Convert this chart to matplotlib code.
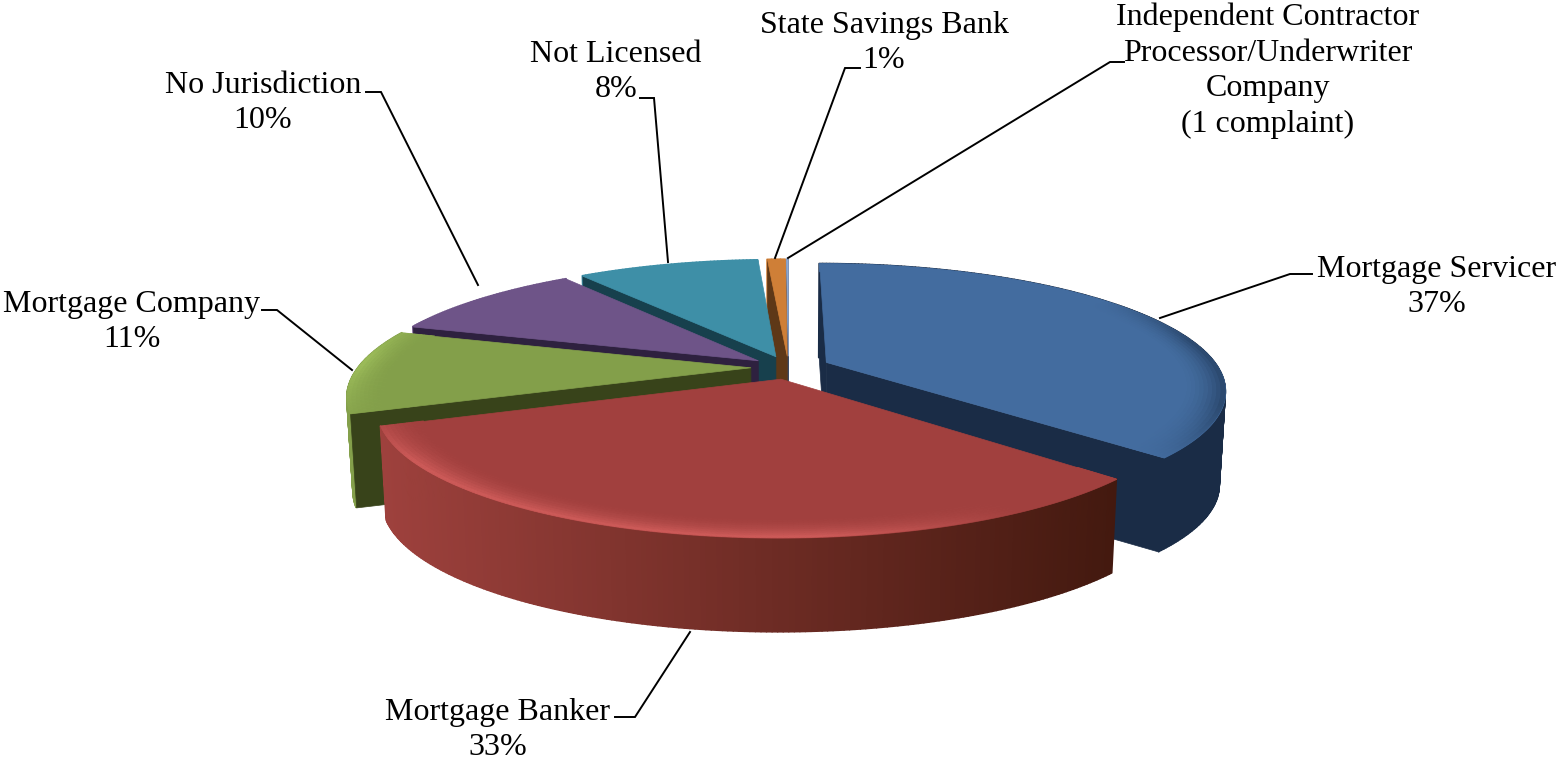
import numpy as np
import matplotlib
matplotlib.use("Agg")
import matplotlib.pyplot as plt
from matplotlib.collections import PolyCollection
from matplotlib.colors import to_rgb

categories = ["Mortgage Servicer", "Mortgage Banker", "Mortgage Company", "No Jurisdiction",
              "Not Licensed", "State Savings Bank", "Independent Contractor"]
values = [37, 32.3, 10.6, 10, 9.1, 0.9, 0.1]
label_texts = ["Mortgage Servicer\n37%", "Mortgage Banker\n33%", "Mortgage Company\n11%",
               "No Jurisdiction\n10%", "Not Licensed\n8%", "State Savings Bank\n1%",
               "Independent Contractor\nProcessor/Underwriter\nCompany\n(1 complaint)"]
label_pos = [(1437, 287), (498, 730), (132, 322), (263, 103), (616, 72), (884, 43), (1268, 71)]
leaders = [[(1160, 318), (1290, 274), (1312, 274)],
           [(690, 632), (635, 717), (615, 717)],
           [(352, 370), (277, 310), (262, 310)],
           [(478, 285), (381, 92), (366, 92)],
           [(668, 262), (654, 98), (640, 98)],
           [(775, 258), (845, 68), (860, 68)],
           [(788, 258), (1110, 62), (1124, 62)]]

top_colors = ["#436c9f", "#a1403e", "#839f4a", "#6e5488", "#3e8fa7", "#cf7f37", "#8fa8d0"]
cut_colors = ["#1a2c46", "#43190f", "#38431a", "#2e213f", "#17404d", "#5e3817", "#3a4a66"]
side_left = ["#1a2c46", "#9e413d", "#84a04b", "#6e5488", "#3e8fa7", "#cf7f37", "#8fa8d0"]
side_right = ["#1a2c46", "#43190f", "#84a04b", "#6e5488", "#3e8fa7", "#cf7f37", "#8fa8d0"]
rim_colors = ["#2c4a70", "#cc5a58", "#9bbb59", "#6e5488", "#3e8fa7", "#cf7f37", "#8fa8d0"]
# angular span (degrees, clockwise from the back) over which each slice shows its bevel
bevel_span = [(55, 135), (150, 260), (245, 300), (0, 0), (0, 0), (0, 0), (0, 0)]
explode = [0.106, 0.096, 0.096, 0.096, 0.096, 0.096, 0.096]
radius = [1.0, 0.985, 1.0, 1.0, 1.0, 1.0, 1.0]

CX, CY, R, B, K, DEPTH, TAPER = 788, 367, 392, 0.31, 0.215, 94, 0.986


def project(u, v):
    s = 1 / (1 + K * v)
    return CX + R * u * s, CY - B * R * v * s


def rim(t, r, ox, oy):
    return project(ox + r * np.sin(t), oy + r * np.cos(t))


def drop(p):
    return (CX + (p[0] - CX) * TAPER, p[1] + DEPTH)


fig = plt.figure(figsize=(15.57, 7.6), dpi=100)
ax = fig.add_axes([0, 0, 1, 1])
ax.set_xlim(0, 1557)
ax.set_ylim(760, 0)
ax.axis("off")

edges = np.cumsum([0] + values) / sum(values) * 2 * np.pi
order = [6, 5, 4, 3, 2, 0, 1]


def add(polys, colors, z, lw=0.5):
    ax.add_collection(PolyCollection(polys, facecolors=colors, edgecolors=colors,
                                     linewidths=lw, zorder=z))


for z, i in enumerate(order):
    t0, t1 = edges[i], edges[i + 1]
    mid = (t0 + t1) / 2
    ox, oy = explode[i] * np.sin(mid), explode[i] * np.cos(mid)
    rr = radius[i]
    ts = np.linspace(t0, t1, max(int((t1 - t0) * 90), 3))
    apex = project(ox, oy)
    m = rim(mid, rr, ox, oy)
    base = 10 * z

    # outer wall
    polys, cols = [], []
    for a, b in zip(ts[:-1], ts[1:]):
        pa, pb = rim(a, rr, ox, oy), rim(b, rr, ox, oy)
        polys.append([pa, pb, drop(pb), drop(pa)])
        f = np.clip((pa[0] - 380) / (1118 - 380), 0, 1)
        cols.append(tuple((1 - f) * np.array(to_rgb(side_left[i])) + f * np.array(to_rgb(side_right[i]))))
    add(polys, cols, base + 1, lw=1.2)

    # cut faces that look toward the viewer
    for t in (t1, t0):
        p = rim(t, rr, ox, oy)
        dx, dy = p[0] - apex[0], p[1] - apex[1]
        if dx * (m[1] - apex[1]) - dy * (m[0] - apex[0]) > 0 and dx > 0:
            continue
        if dx * (m[1] - apex[1]) - dy * (m[0] - apex[0]) < 0 and dx < 0:
            continue
        add([[apex, p, drop(p), drop(apex)]], [cut_colors[i]], base + 2)

    # top face
    outline = [apex] + [rim(t, rr, ox, oy) for t in ts]
    add([outline], [top_colors[i]], base + 3)

    # soft bevel along the rim
    lo, hi = np.radians(bevel_span[i])
    if hi > lo:
        c_top, c_rim = np.array(to_rgb(top_colors[i])), np.array(to_rgb(rim_colors[i]))
        rs = np.linspace(0.90, 1.0, 11) * rr
        polys, cols = [], []
        for k, (r0, r1) in enumerate(zip(rs[:-1], rs[1:])):
            w = ((k + 1) / 10) ** 2
            for a, b in zip(ts[:-1], ts[1:]):
                tm = (a + b) / 2
                fade = np.clip(min(tm - lo, hi - tm) / np.radians(25), 0, 1)
                polys.append([rim(a, r0, ox, oy), rim(b, r0, ox, oy), rim(b, r1, ox, oy), rim(a, r1, ox, oy)])
                cols.append(tuple((1 - w * fade) * c_top + w * fade * c_rim))
        add(polys, cols, base + 4)

for pts in leaders:
    xs, ys = zip(*pts)
    ax.plot(xs, ys, color="black", lw=1.4, zorder=200, solid_joinstyle="miter")

for txt, (x, y) in zip(label_texts, label_pos):
    ax.text(x, y, txt, ha="center", va="center", family="Liberation Serif", fontsize=23,
            color="black", linespacing=1.3, zorder=201)

fig.savefig("out.png", dpi=100, facecolor="white")
